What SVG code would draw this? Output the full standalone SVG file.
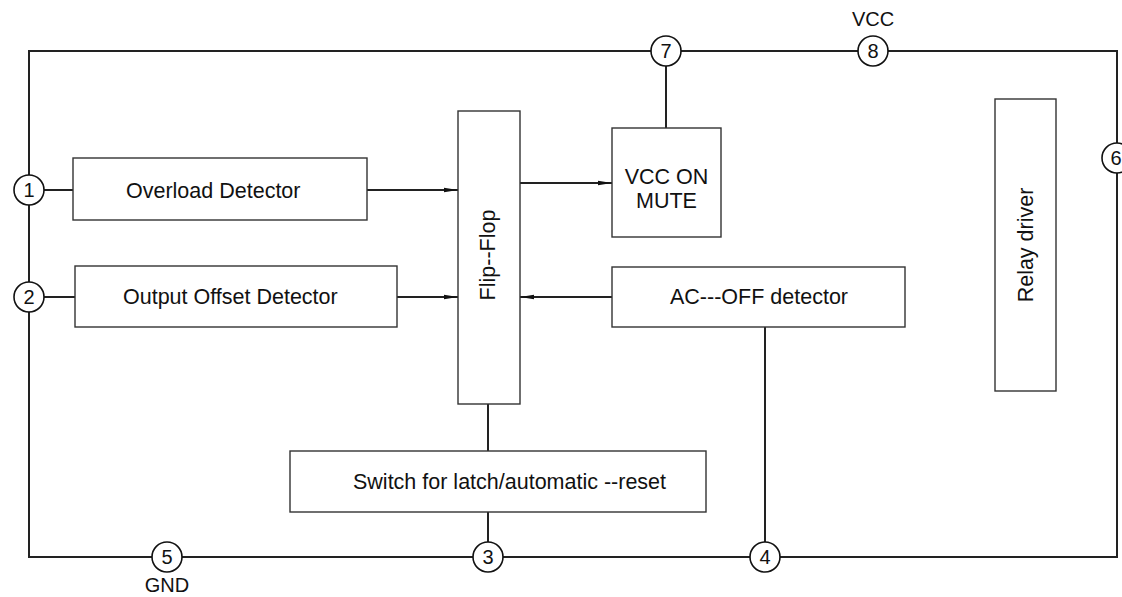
<svg xmlns="http://www.w3.org/2000/svg" width="1122" height="597" viewBox="0 0 1122 597">
<style>
.box{fill:#fff;stroke:#333;stroke-width:1.4}
.wire{fill:none;stroke:#222;stroke-width:2}
.pin{fill:#fff;stroke:#111;stroke-width:1.6}
.t{font-family:"Liberation Sans",Arial,sans-serif;font-size:21.5px;fill:#111}
.n{font-family:"Liberation Sans",Arial,sans-serif;font-size:20px;fill:#111;text-anchor:middle}
</style>
<defs>
<marker id="arr" viewBox="0 0 14 6" refX="14" refY="3" markerWidth="14" markerHeight="6" markerUnits="userSpaceOnUse" orient="auto">
<path d="M0,0.8 L14,3 L0,5.2 Z" fill="#111"/>
</marker>
</defs>
<rect width="1122" height="597" fill="#fff"/>
<g id="connectors">
<path class="wire" d="M29,557 V51 H1117 V557 Z"/>
<line class="wire" x1="44" y1="190" x2="73" y2="190"/>
<line class="wire" x1="44" y1="297" x2="75" y2="297"/>
<line class="wire" x1="367" y1="190" x2="458" y2="190" marker-end="url(#arr)"/>
<line class="wire" x1="397" y1="297" x2="458" y2="297" marker-end="url(#arr)"/>
<line class="wire" x1="520" y1="183" x2="612" y2="183" marker-end="url(#arr)"/>
<line class="wire" x1="612" y1="297" x2="520" y2="297" marker-end="url(#arr)"/>
<line class="wire" x1="666" y1="66" x2="666" y2="128"/>
<line class="wire" x1="488" y1="404" x2="488" y2="452"/>
<line class="wire" x1="488" y1="512" x2="488" y2="542"/>
<line class="wire" x1="765" y1="327" x2="765" y2="542"/>
</g>
<g id="overload"><rect class="box" x="73" y="158" width="294" height="62"/><text class="t" x="126" y="198">Overload Detector</text></g>
<g id="offset"><rect class="box" x="75" y="266" width="322" height="61"/><text class="t" x="123" y="304">Output Offset Detector</text></g>
<g id="flipflop"><rect class="box" x="458" y="111" width="62" height="293"/><text class="t" transform="translate(495,255) rotate(-90)" text-anchor="middle">Flip--Flop</text></g>
<g id="vccmute"><rect class="box" x="612" y="128" width="109" height="109"/><text class="t" x="666.5" y="184" text-anchor="middle">VCC ON</text><text class="t" x="666.5" y="208" text-anchor="middle">MUTE</text></g>
<g id="acoff"><rect class="box" x="612" y="267" width="293" height="60"/><text class="t" x="670" y="304">AC---OFF detector</text></g>
<g id="relay"><rect class="box" x="995" y="99" width="61" height="292"/><text class="t" transform="translate(1033,245) rotate(-90)" text-anchor="middle">Relay driver</text></g>
<g id="switch"><rect class="box" x="290" y="451" width="416" height="61"/><text class="t" x="353" y="489">Switch for latch/automatic --reset</text></g>
<g id="pin1"><circle class="pin" cx="29" cy="190" r="15"/><text class="n" x="29" y="197">1</text></g>
<g id="pin2"><circle class="pin" cx="29" cy="297" r="15"/><text class="n" x="29" y="304">2</text></g>
<g id="pin3"><circle class="pin" cx="488" cy="557" r="15"/><text class="n" x="488" y="564">3</text></g>
<g id="pin4"><circle class="pin" cx="765" cy="557" r="15"/><text class="n" x="765" y="564">4</text></g>
<g id="pin5"><circle class="pin" cx="167" cy="557" r="15"/><text class="n" x="167" y="564">5</text><text class="n" x="167" y="592">GND</text></g>
<g id="pin6"><circle class="pin" cx="1117" cy="158" r="15"/><text class="n" x="1116" y="165">6</text></g>
<g id="pin7"><circle class="pin" cx="666" cy="51" r="15"/><text class="n" x="666" y="58">7</text></g>
<g id="pin8"><circle class="pin" cx="873" cy="51" r="15"/><text class="n" x="873" y="58">8</text><text class="n" x="873" y="26">VCC</text></g>
</svg>
